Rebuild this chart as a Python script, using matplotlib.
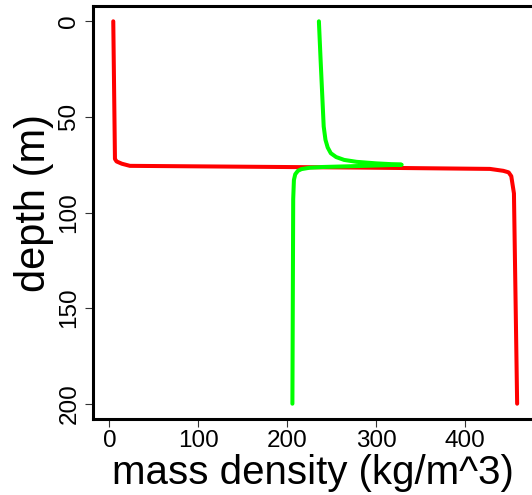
import matplotlib
matplotlib.use("Agg")
import matplotlib.pyplot as plt

# Data
red_depth = [0, 72, 73.3, 74.5, 75.6, 76.5, 77.2, 78.2, 79, 81, 90, 200]
red_density = [4.3, 6.2, 8, 14, 23, 280, 428, 443, 449, 452, 455, 458.6]

green_depth = [0, 20, 40, 55, 62, 66, 69, 71, 72.5, 73.5, 74.3, 75,
               75.7, 76.2, 76.6, 77.3, 78.2, 80, 83, 93, 200]
green_density = [235.6, 237.5, 239.5, 241, 243, 245.5, 249, 255, 264, 278, 300, 328.7,
                 280, 240, 225, 216, 212, 209, 207.5, 206.7, 205.8]

x_ticks = [0, 100, 200, 300, 400]
y_ticks = [0, 50, 100, 150, 200]

plt.rcParams['font.family'] = ['Liberation Sans', 'DejaVu Sans']

W, H = 532, 495
fig = plt.figure(figsize=(W / 100, H / 100), dpi=100)

xlim = (-18.5, 565)
ylim = (208, -8)
left_px, top_px, bottom_px = 93, 6, 419
right_px = left_px + (xlim[1] - xlim[0]) * 0.889
ax = fig.add_axes([left_px / W, (H - bottom_px) / H,
                   (right_px - left_px) / W, (bottom_px - top_px) / H])

ax.plot(red_density, red_depth, color='#FF0000', lw=2.9,
        solid_capstyle='round', solid_joinstyle='round')
ax.plot(green_density, green_depth, color='#00FF00', lw=2.9,
        solid_capstyle='round', solid_joinstyle='round')

ax.set_xlim(*xlim)
ax.set_ylim(*ylim)
ax.set_xticks(x_ticks)
ax.set_yticks(y_ticks)
ax.set_xticklabels([str(t) for t in x_ticks], fontsize=17.5)
ax.set_yticklabels([str(t) for t in y_ticks], fontsize=17.5,
                   rotation=90, va='center')
ax.tick_params(axis='both', length=6, width=0.8, color='#333333')
ax.tick_params(axis='x', pad=2)
ax.tick_params(axis='y', pad=3)

for s in ax.spines.values():
    s.set_linewidth(2.2)
ax.spines['right'].set_visible(False)

fig.text(313 / W, 1 - 473 / H, 'mass density (kg/m^3)', fontsize=29,
         ha='center', va='center')
fig.text(34 / W, 1 - 203 / H, 'depth (m)', fontsize=30, rotation=90,
         ha='center', va='center')

fig.savefig('out.png', dpi=100)
